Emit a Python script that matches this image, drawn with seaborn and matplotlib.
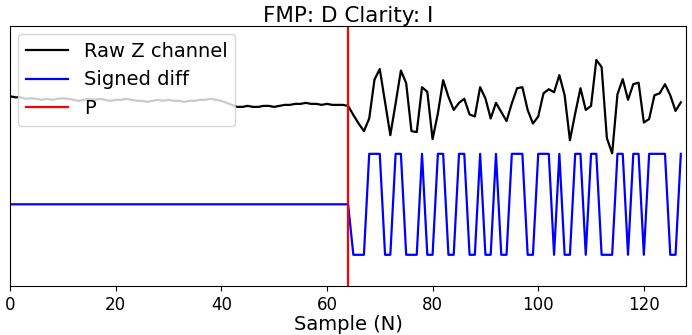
import numpy as np
import pandas as pd
import seaborn as sns
import matplotlib
matplotlib.use("Agg")
import matplotlib.pyplot as plt

# values
samples = np.arange(128)

raw_z = [
    2.14, 2.12, 2.12, 2.09, 2.10, 2.09, 2.07, 2.09, 2.07, 2.09,
    2.10, 2.09, 2.07, 2.05, 2.07, 2.09, 2.07, 2.09, 2.07, 2.05,
    2.07, 2.07, 2.09, 2.07, 2.05, 2.05, 2.03, 2.05, 2.07, 2.05,
    2.07, 2.05, 2.05, 2.03, 2.05, 2.05, 2.07, 2.07, 2.09, 2.07,
    2.05, 2.01, 1.97, 1.93, 1.93, 1.95, 1.93, 1.93, 1.95, 1.95,
    1.93, 1.95, 1.97, 1.97, 1.99, 1.99, 2.01, 1.99, 1.99, 1.97,
    1.99, 1.97, 1.97, 1.97, 1.95,
    # after P
    1.77, 1.60, 1.45, 1.70, 2.47, 2.68, 2.03, 1.37, 2.00, 2.65,
    2.40, 1.45, 1.43, 2.32, 2.23, 1.29, 1.80, 2.46, 2.13, 1.87,
    2.01, 2.09, 1.78, 1.74, 2.32, 2.10, 1.70, 2.01, 1.83, 1.65,
    2.00, 2.30, 2.32, 1.87, 1.60, 1.74, 2.20, 2.28, 2.22, 2.56,
    2.16, 1.27, 1.80, 2.30, 1.87, 1.95, 2.86, 2.72, 1.31, 1.01,
    2.18, 2.48, 2.07, 2.38, 2.41, 1.62, 1.69, 2.16, 2.20, 2.38,
    2.16, 1.85, 2.02,
]

signed_diff = [0] * 65 + [
    -1, -1, -1, 1, 1, 1, -1, -1, 1, 1,
    -1, -1, -1, 1, -1, -1, 1, 1, -1, -1,
    1, 1, -1, -1, 1, -1, -1, 1, -1, -1,
    1, 1, 1, -1, -1, 1, 1, 1, -1, 1,
    -1, -1, 1, 1, -1, 1, 1, -1, -1, -1,
    1, 1, -1, 1, 1, -1, 1, 1, 1, 1,
    -1, -1, 1,
]

p_sample = 64

df = pd.DataFrame({"sample": samples, "raw": raw_z, "diff": signed_diff})

fig = plt.figure(figsize=(6.92, 3.35), dpi=100)
ax = fig.add_axes([0.0145, 0.146, 0.977, 0.776])

sns.lineplot(data=df, x="sample", y="raw", color="k", linewidth=1.6,
             label="Raw Z channel", ax=ax)
sns.lineplot(data=df, x="sample", y="diff", color="b", linewidth=1.6,
             label="Signed diff", ax=ax)
ax.axvline(p_sample, color="r", linewidth=1.6, label="P")

ax.set_xlim(0, 128)
ax.set_ylim(-1.62, 3.53)
ax.set_yticks([])
ax.set_ylabel("")
ax.set_xticks([0, 20, 40, 60, 80, 100, 120])
ax.tick_params(axis="x", labelsize=12)
ax.set_xlabel("Sample (N)", fontsize=14, labelpad=1)
ax.set_title("FMP: D Clarity: I", fontsize=15.5, pad=3)
ax.legend(loc="upper left", fontsize=14, borderaxespad=0.4, handlelength=2.2)

fig.savefig("out.png", dpi=100)
